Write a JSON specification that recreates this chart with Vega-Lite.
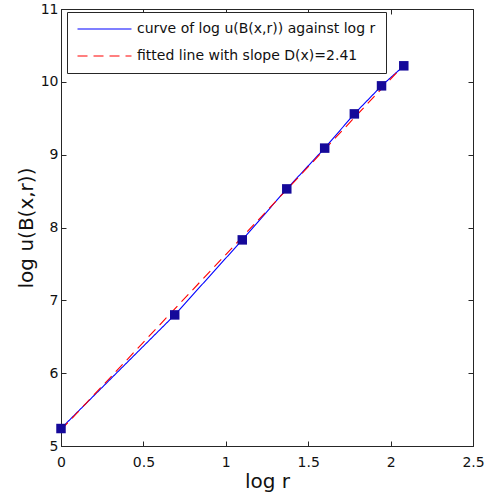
{
  "$schema": "https://vega.github.io/schema/vega-lite/v6.json",
  "width": 412,
  "height": 437,
  "autosize": {"type": "none"},
  "padding": {"left": 61, "top": 9, "right": 12, "bottom": 52},
  "background": "white",
  "config": {
    "font": "DejaVu Sans",
    "view": {"stroke": "#262626", "strokeWidth": 1},
    "axis": {
      "grid": false,
      "domainColor": "#262626",
      "tickColor": "#262626",
      "tickSize": -5,
      "labelFlush": false,
      "labelOverlap": false,
      "labelFontSize": 14,
      "labelColor": "#111111",
      "titleFontSize": 20,
      "titleFontWeight": "normal",
      "titleColor": "#111111",
      "format": "~g"
    },
    "legend": {
      "orient": "none",
      "legendX": 6,
      "legendY": 3,
      "fillColor": "white",
      "strokeColor": "#262626",
      "padding": 10,
      "symbolType": "M-1.2,0H8.78",
      "symbolSize": 117,
      "symbolStrokeWidth": 1.2,
      "labelFont": "DejaVu Sans",
      "labelFontSize": 14,
      "labelColor": "#111111",
      "labelOffset": 46,
      "rowPadding": 13,
      "labelLimit": 400
    }
  },
  "data": {
    "values": [
      {"series": "curve of log u(B(x,r)) against log r", "logr": 0.0, "logu": 5.24},
      {"series": "curve of log u(B(x,r)) against log r", "logr": 0.69, "logu": 6.8},
      {"series": "curve of log u(B(x,r)) against log r", "logr": 1.1, "logu": 7.83},
      {"series": "curve of log u(B(x,r)) against log r", "logr": 1.37, "logu": 8.53},
      {"series": "curve of log u(B(x,r)) against log r", "logr": 1.6, "logu": 9.09},
      {"series": "curve of log u(B(x,r)) against log r", "logr": 1.78, "logu": 9.56},
      {"series": "curve of log u(B(x,r)) against log r", "logr": 1.945, "logu": 9.945},
      {"series": "curve of log u(B(x,r)) against log r", "logr": 2.08, "logu": 10.22},
      {"series": "fitted line with slope D(x)=2.41", "logr": 0.0, "logu": 5.22},
      {"series": "fitted line with slope D(x)=2.41", "logr": 2.08, "logu": 10.23}
    ]
  },
  "layer": [
    {
      "mark": {"type": "line", "strokeWidth": 1.1},
      "encoding": {
        "x": {"field": "logr", "type": "quantitative", "scale": {"domain": [0, 2.5], "nice": false, "zero": false}, "axis": {"title": "log r", "values": [0, 0.5, 1, 1.5, 2, 2.5], "labelPadding": 14, "titlePadding": 2}},
        "y": {"field": "logu", "type": "quantitative", "scale": {"domain": [5, 11], "nice": false, "zero": false}, "axis": {"title": "log u(B(x,r))", "values": [5, 6, 7, 8, 9, 10, 11], "labelPadding": 8, "titlePadding": 4}},
        "color": {"field": "series", "type": "nominal", "title": null, "scale": {"domain": ["curve of log u(B(x,r)) against log r", "fitted line with slope D(x)=2.41"], "range": ["#0000ff", "#ff0000"]}},
        "strokeDash": {"field": "series", "type": "nominal", "title": null, "scale": {"domain": ["curve of log u(B(x,r)) against log r", "fitted line with slope D(x)=2.41"], "range": [[1, 0], [10, 6]]}}
      }
    },
    {
      "transform": [{"filter": "datum.series == 'curve of log u(B(x,r)) against log r'"}],
      "mark": {"type": "square", "filled": true, "size": 90, "color": "#15099a", "opacity": 1},
      "encoding": {
        "x": {"field": "logr", "type": "quantitative", "axis": {"orient": "top", "labels": false, "title": null, "domain": false, "values": [0, 0.5, 1, 1.5, 2, 2.5]}},
        "y": {"field": "logu", "type": "quantitative", "axis": {"orient": "right", "labels": false, "title": null, "domain": false, "values": [5, 6, 7, 8, 9, 10, 11]}}
      }
    }
  ],
  "resolve": {"axis": {"x": "independent", "y": "independent"}}
}
